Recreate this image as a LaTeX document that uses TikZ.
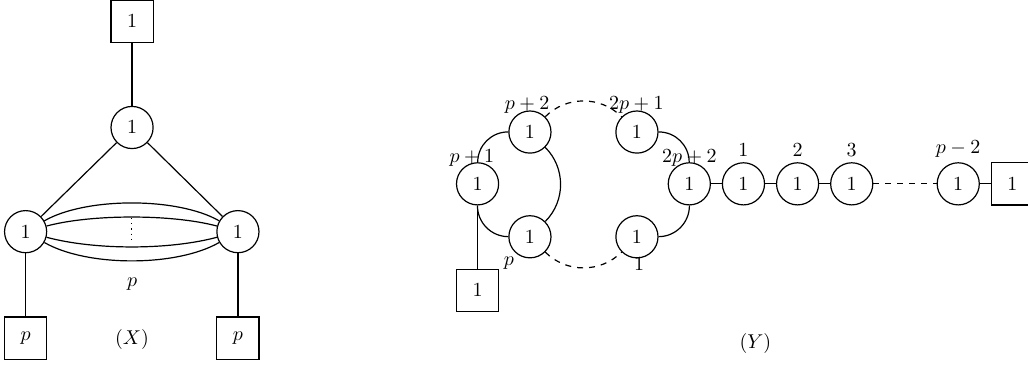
\documentclass[tikz,border=0pt]{standalone}
\usetikzlibrary{positioning}
\begin{document}
\begin{tikzpicture}[
node distance=0.19cm,
gauge/.style={draw, circle, minimum size=0.74cm, inner sep=0pt},
flavour/.style={draw, rectangle, minimum size=0.74cm, inner sep=0pt},
lbl/.style={inner sep=0pt},
semithick
]
\useasboundingbox (0,0) rectangle (18.06,-6.45);

% quiver (X)
\node[flavour] (xtop) at (2.32,-0.37) {$1$};
\node[gauge] (xmid) at (2.32,-2.24) {$1$};
\node[gauge] (xl) at (0.45,-4.07) {$1$};
\node[gauge] (xr) at (4.18,-4.07) {$1$};
\node[flavour] (xpl) at (0.45,-5.94) {$p$};
\node[flavour] (xpr) at (4.18,-5.94) {$p$};
\node[lbl] (xmult) at (2.32,-4.99) {$p$};
\node[lbl] (xname) at (2.32,-5.97) {$(X)$};

\draw (xtop) -- (xmid);
\draw (xmid) -- (xl);
\draw (xmid) -- (xr);
\draw (xl) -- (xpl);
\draw (xr) -- (xpr);
\draw (xl) to[bend left=30, looseness=0.7] (xr);
\draw (xl) to[bend left=15, looseness=0.7] coordinate[midway] (xup) (xr);
\draw (xl) to[bend right=15, looseness=0.75] coordinate[midway] (xdown) (xr);
\draw (xl) to[bend right=30, looseness=0.72] (xr);
\draw[dotted] ([yshift=-0.5pt]xup) -- ([yshift=1.5pt]xdown);

% quiver (Y)
\node[gauge] (ya) at (8.39,-3.23) {$1$};
\node[gauge] (yb) at (9.31,-2.32) {$1$};
\node[gauge] (yc) at (9.31,-4.16) {$1$};
\node[gauge] (yd) at (11.19,-2.32) {$1$};
\node[gauge] (ye) at (11.19,-4.16) {$1$};
\node[gauge] (yf) at (12.11,-3.23) {$1$};
\node[gauge, right=of yf, label={[label distance=-1pt]above:$1$}] (c1) {$1$};
\node[gauge, right=of c1, label={[label distance=-1pt]above:$2$}] (c2) {$1$};
\node[gauge, right=of c2, label={[label distance=-1pt]above:$3$}] (c3) {$1$};
\node[gauge, right=1.11cm of c3, label={[label distance=-1pt]above:$p-2$}] (cp) {$1$};
\node[flavour, right=of cp] (ybox) {$1$};
\node[flavour] (yabox) at (8.39,-5.10) {$1$};

\node[lbl] (la) at (8.29,-2.78) {$p+1$};
\node[lbl] (lb) at (9.26,-1.85) {$p+2$};
\node[lbl] (lc) at (8.94,-4.62) {$p$};
\node[lbl] (ld) at (11.18,-1.85) {$2p+1$};
\node[lbl] (le) at (11.23,-4.64) {$1$};
\node[lbl] (lf) at (12.11,-2.78) {$2p+2$};
\node[lbl] (yname) at (13.27,-6.03) {$(Y)$};

\draw (ya) to[bend left=45] (yb);
\draw (ya) to[bend right=45] (yc);
\draw (yb) to[bend left=45] (yc);
\draw[dashed] (yb) to[bend left=45] (yd);
\draw[dashed] (yc) to[bend right=45] (ye);
\draw (yd) to[bend left=45] (yf);
\draw (ye) to[bend right=45] (yf);
\draw (ya) -- (yabox);
\draw (yf) -- (c1);
\draw (c1) -- (c2);
\draw (c2) -- (c3);
\draw[dashed] (c3) -- (cp);
\draw (cp) -- (ybox);
\end{tikzpicture}
\end{document}
